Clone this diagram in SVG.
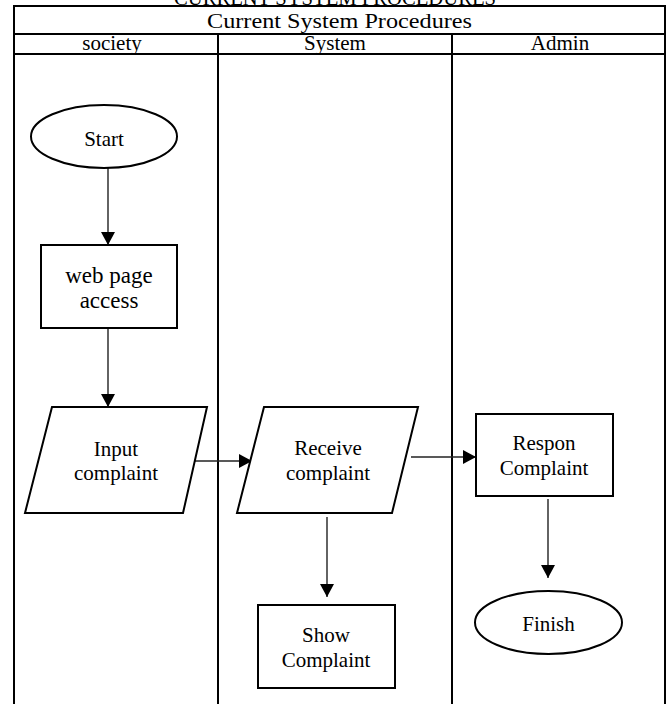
<svg xmlns="http://www.w3.org/2000/svg" width="669" height="704" viewBox="0 0 669 704">
<style>
text{font-family:"Liberation Serif","Times New Roman",serif;fill:#000;text-anchor:middle}
.t{font-size:21px}
.frame{fill:none;stroke:#000;stroke-width:2}
.node{fill:#fff;stroke:#000;stroke-width:2}
.conn{fill:none;stroke:#222;stroke-width:1.4;marker-end:url(#ah)}
</style>
<defs>
<marker id="ah" markerUnits="userSpaceOnUse" markerWidth="14" markerHeight="14" refX="13" refY="7" orient="auto" viewBox="0 0 14 14">
<path d="M0,0 L13,7 L0,14 z" fill="#000"/>
</marker>
</defs>
<rect width="669" height="704" fill="#fff"/>
<text x="335" y="4.5" font-size="20" textLength="322" lengthAdjust="spacingAndGlyphs">CURRENT SYSTEM PROCEDURES</text>
<g id="table">
<rect class="frame" x="14" y="6" width="651" height="720"/>
<line class="frame" x1="14" y1="34" x2="665" y2="34"/>
<line class="frame" x1="14" y1="54" x2="665" y2="54"/>
<line class="frame" x1="218" y1="34" x2="218" y2="710"/>
<line class="frame" x1="452" y1="34" x2="452" y2="710"/>
<text x="339.5" y="28" font-size="20" textLength="265" lengthAdjust="spacingAndGlyphs">Current System Procedures</text>
<text class="t" x="112" y="50">society</text>
<text class="t" x="335" y="50">System</text>
<text class="t" x="560" y="50">Admin</text>
</g>
<g id="connectors">
<line class="conn" x1="108" y1="168" x2="108" y2="245"/>
<line class="conn" x1="108" y1="328" x2="108" y2="407"/>
<line class="conn" x1="194" y1="461" x2="252" y2="461"/>
<line class="conn" x1="411" y1="457" x2="476" y2="457"/>
<line class="conn" x1="327" y1="517" x2="327" y2="597"/>
<line class="conn" x1="548" y1="499" x2="548" y2="578"/>
</g>
<g id="start">
<ellipse class="node" cx="104" cy="136.5" rx="73" ry="31.5"/>
<text class="t" x="104" y="146">Start</text>
</g>
<g id="web-page-access">
<rect class="node" x="41" y="245" width="136" height="83"/>
<text x="109" y="283" font-size="23">web page</text>
<text x="109" y="308" font-size="23">access</text>
</g>
<g id="input-complaint">
<polygon class="node" points="52,407 207,407 183,513 25,513"/>
<text class="t" x="116" y="456">Input</text>
<text class="t" x="116" y="480">complaint</text>
</g>
<g id="receive-complaint">
<polygon class="node" points="264,407 418,407 392,513 237,513"/>
<text class="t" x="328" y="455">Receive</text>
<text class="t" x="328" y="480">complaint</text>
</g>
<g id="respon-complaint">
<rect class="node" x="476" y="414" width="137" height="82"/>
<text class="t" x="544" y="450">Respon</text>
<text class="t" x="544" y="475">Complaint</text>
</g>
<g id="show-complaint">
<rect class="node" x="258" y="605" width="137" height="83"/>
<text class="t" x="326" y="642">Show</text>
<text class="t" x="326" y="667">Complaint</text>
</g>
<g id="finish">
<ellipse class="node" cx="548.5" cy="622.5" rx="73.5" ry="31.5"/>
<text class="t" x="548.5" y="631">Finish</text>
</g>
</svg>
